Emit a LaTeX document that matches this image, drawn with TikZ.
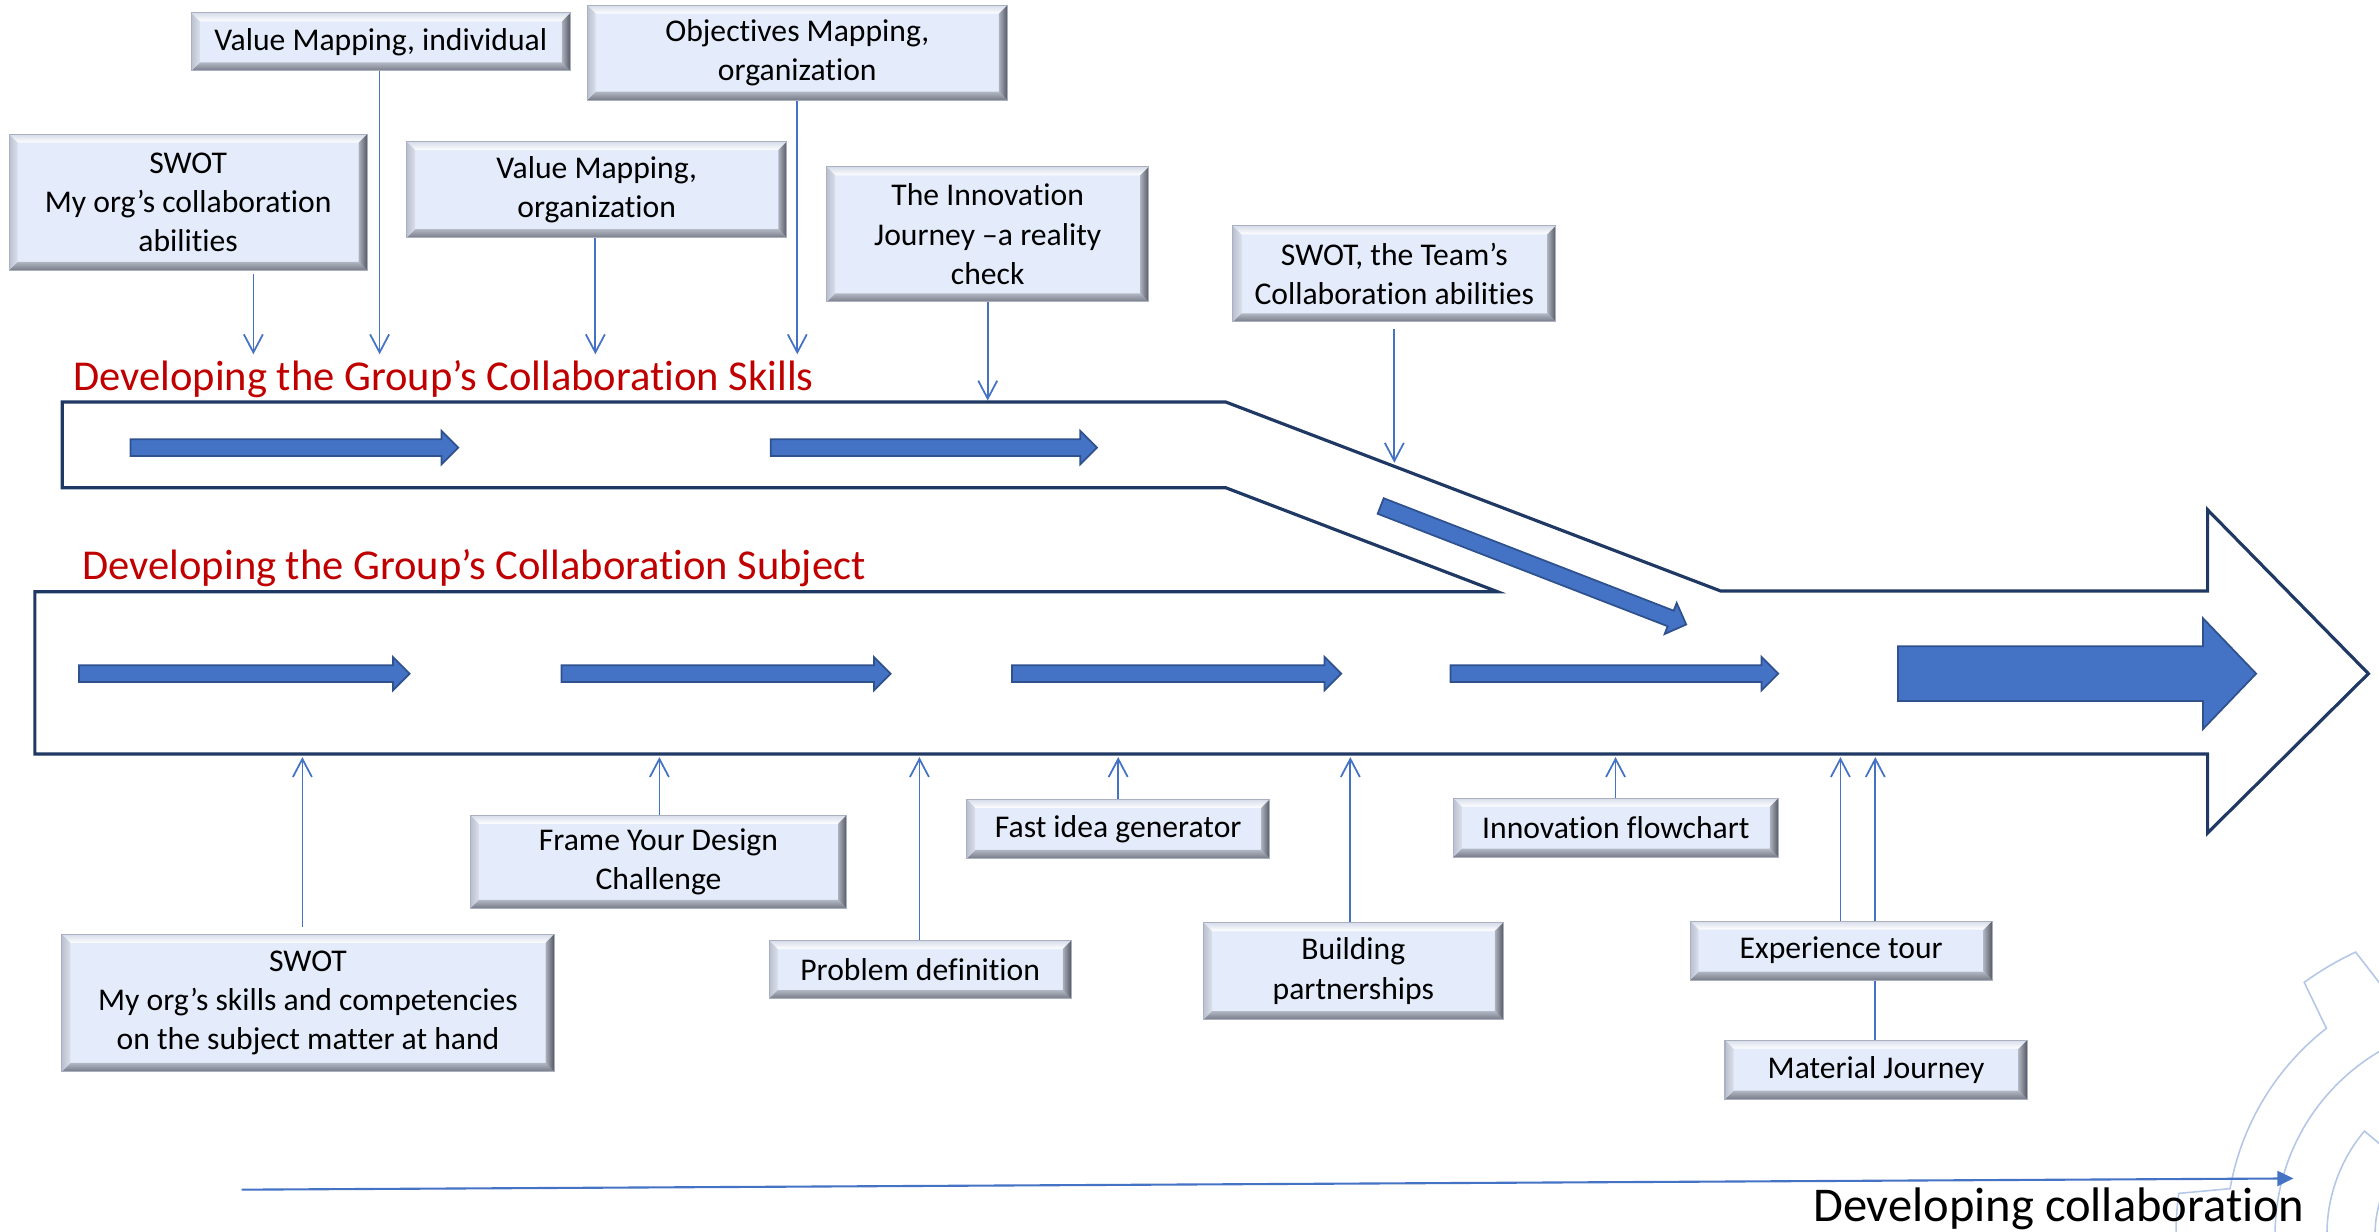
\documentclass[tikz,border=0pt]{standalone}
\usepackage{fontspec}
\setmainfont{Carlito}[Ligatures=NoCommon]
\usetikzlibrary{arrows.meta,calc,backgrounds}
\definecolor{boxFill}{RGB}{228,236,251}
\definecolor{toolEdge}{RGB}{170,176,192}
\definecolor{bevelTop}{RGB}{214,220,234}
\definecolor{bevelLow}{RGB}{118,123,134}
\definecolor{bevelLowIn}{RGB}{178,183,196}
\definecolor{bevelLeft}{RGB}{186,192,207}
\definecolor{bevelLeftIn}{RGB}{218,223,235}
\definecolor{bevelRight}{RGB}{84,88,97}
\definecolor{bevelRightIn}{RGB}{172,177,190}
\definecolor{bandNavy}{RGB}{31,56,100}
\definecolor{flowBlue}{RGB}{68,114,196}
\definecolor{flowEdge}{RGB}{47,82,143}
\definecolor{titleRed}{RGB}{192,0,0}
\definecolor{gearBlue}{RGB}{180,199,231}
\def\bv{0.085cm}
\tikzset{pics/flowarrow/.style={code={
  \draw[flowfill] (0,-5.5) -- (#1-11,-5.5) -- (#1-11,-11) -- (#1,0) -- (#1-11,11) -- (#1-11,5.5) -- (0,5.5) -- cycle;}}}

\begin{document}
\begin{tikzpicture}[x=0.015172cm, y=-0.015172cm]
  \tikzstyle{toolbox} = [draw=toolEdge, line width=0.3pt, fill=boxFill, align=center, inner sep=0pt,
    font=\fontsize{9}{11.2}\selectfont,
    path picture={
      \coordinate (pnw) at (path picture bounding box.north west);
      \coordinate (pne) at (path picture bounding box.north east);
      \coordinate (psw) at (path picture bounding box.south west);
      \coordinate (pse) at (path picture bounding box.south east);
      \shade[top color=bevelTop, bottom color=white] (pnw) -- (pne) -- ($(pne)+(-\bv,-\bv)$) -- ($(pnw)+(\bv,-\bv)$) -- cycle;
      \shade[bottom color=bevelLow, top color=bevelLowIn] (psw) -- (pse) -- ($(pse)+(-\bv,\bv)$) -- ($(psw)+(\bv,\bv)$) -- cycle;
      \shade[left color=bevelLeft, right color=bevelLeftIn] (pnw) -- (psw) -- ($(psw)+(\bv,\bv)$) -- ($(pnw)+(\bv,-\bv)$) -- cycle;
      \shade[right color=bevelRight, left color=bevelRightIn] (pne) -- (pse) -- ($(pse)+(-\bv,\bv)$) -- ($(pne)+(-\bv,-\bv)$) -- cycle;
    }]
  \tikzstyle{feedarrow} = [draw=flowBlue, line width=0.5pt, -{Straight Barb[length=1.8mm,width=1.9mm]}]
  \tikzstyle{bandline} = [draw=bandNavy, line width=0.9pt, line join=miter]
  \tikzstyle{flowfill} = [fill=flowBlue, draw=flowEdge, line width=0.5pt]
  \tikzstyle{stagetitle} = [text=titleRed, font=\fontsize{12.1}{14}\selectfont, anchor=base west, inner sep=0pt]
  \tikzstyle{gearline} = [draw=gearBlue, line width=0.45pt]

  \useasboundingbox (0,0) rectangle (1568,812);

  % gears in the corner
  \begin{scope}
    \clip (0,0) rectangle (1568,812);
    \begin{scope}[shift={(1639.2,813.3)}, yscale=-1]
      \draw[gearline] plot[domain=200:190, samples=6] (\x:172) -- (187.5:205)
        -- plot[domain=187.5:172.5, samples=10] (\x:205) -- (170:172)
        -- plot[domain=170:128, samples=30] (\x:172) -- (126:205)
        -- plot[domain=126:115, samples=10] (\x:205) -- (112.5:172)
        -- plot[domain=112.5:70, samples=20] (\x:172);
      \draw[gearline] plot[domain=182:90, samples=50] (\x:139.7);
      \draw[gearline] plot[domain=186:140, samples=30] (\x:105.5) -- (140:93)
        -- plot[domain=140:100, samples=20] (\x:93);
      \draw[gearline] plot[domain=186:140, samples=15] (\x:73.8);
    \end{scope}
  \end{scope}

  % the two bands
  \draw[bandline] (41,265) -- (808,265) -- (1134,389.5) -- (1455,389.5) -- (1455,336) -- (1561,444)
    -- (1455,549) -- (1455,497) -- (23,497) -- (23,390) -- (987,390) -- (808,321.5) -- (41,321.5) -- cycle;
  \node[stagetitle] (skillsTitle) at (48,257.5) {Developing the Group’s Collaboration Skills};
  \node[stagetitle] (subjectTitle) at (54,382) {Developing the Group’s Collaboration Subject};

  \pic at (86,295) {flowarrow=216};
  \pic at (508,295) {flowarrow=215};
  \pic[rotate=-21.2] at (910,333.5) {flowarrow=216};
  \pic at (52,444) {flowarrow=218};
  \pic at (370,444) {flowarrow=217};
  \pic at (667,444) {flowarrow=217};
  \pic at (956,444) {flowarrow=216};
  \draw[flowfill] (1251,426) -- (1452,426) -- (1452,407.5) -- (1487,444) -- (1452,480.5) -- (1452,462) -- (1251,462) -- cycle;

  % tools above
  \node[toolbox, minimum width=3.79cm, minimum height=0.58cm] (valInd) at (251,27.6) {Value Mapping, individual};
  \node[toolbox, minimum width=4.2cm, minimum height=0.95cm] (objOrg) at (525.5,34.7) {Objectives Mapping,\\organization};
  \node[toolbox, minimum width=3.58cm, minimum height=1.36cm] (swotOrg) at (124,133.3) {SWOT\\My org’s collaboration\\abilities};
  \node[toolbox, minimum width=3.8cm, minimum height=0.96cm] (valOrg) at (393.3,125) {Value Mapping,\\organization};
  \node[toolbox, minimum width=3.22cm, minimum height=1.35cm] (innJourney) at (651,154.5) {The Innovation\\Journey –a reality\\check};
  \node[toolbox, minimum width=3.23cm, minimum height=0.96cm] (swotTeam) at (919,180.5) {SWOT, the Team’s\\Collaboration abilities};

  % tools below
  \node[toolbox, minimum width=4.92cm, minimum height=1.37cm] (swotSkills) at (203,661) {SWOT\\My org’s skills and competencies\\on the subject matter at hand};
  \node[toolbox, minimum width=3.76cm, minimum height=0.93cm] (frame) at (434,568) {Frame Your Design\\Challenge};
  \node[toolbox, minimum width=3.02cm, minimum height=0.58cm] (problem) at (606.5,639) {Problem definition};
  \node[toolbox, minimum width=3.03cm, minimum height=0.59cm] (fastIdea) at (737,546.3) {Fast idea generator};
  \node[toolbox, minimum width=3cm, minimum height=0.97cm] (partners) at (892,640) {Building\\partnerships};
  \node[toolbox, minimum width=3.25cm, minimum height=0.59cm] (innFlow) at (1065,545.5) {Innovation flowchart};
  \node[toolbox, minimum width=3.02cm, minimum height=0.59cm] (expTour) at (1213.5,626.5) {Experience tour};
  \node[toolbox, minimum width=3.02cm, minimum height=0.59cm] (matJourney) at (1236.5,705) {Material Journey};

  % where the tools feed in
  \coordinate (inSwotOrg) at (167,233.5);
  \coordinate (inValInd) at (250.2,233.5);
  \coordinate (inValOrg) at (392.4,233.5);
  \coordinate (inObjOrg) at (525.5,233.5);
  \coordinate (inJourney) at (651,264);
  \coordinate (inTeam) at (919,305);
  \coordinate (inSkills) at (199.3,499);
  \coordinate (inFrame) at (434.6,499);
  \coordinate (inProblem) at (606,499);
  \coordinate (inFast) at (737,499);
  \coordinate (inPartners) at (890,499);
  \coordinate (inFlow) at (1064.8,499);
  \coordinate (inTour) at (1213,499);
  \coordinate (inMaterial) at (1236,499);

  \begin{scope}[on background layer]
    \draw[feedarrow, shorten <=1pt] (swotOrg.south -| inSwotOrg) -- (inSwotOrg);
    \draw[feedarrow] (valInd.south -| inValInd) -- (inValInd);
    \draw[feedarrow] (valOrg.south -| inValOrg) -- (inValOrg);
    \draw[feedarrow] (objOrg.south -| inObjOrg) -- (inObjOrg);
    \draw[feedarrow] (innJourney.south -| inJourney) -- (inJourney);
    \draw[feedarrow, shorten <=2pt] (swotTeam.south -| inTeam) -- (inTeam);
    \draw[feedarrow, shorten <=2pt] (swotSkills.north -| inSkills) -- (inSkills);
    \draw[feedarrow] (frame.north -| inFrame) -- (inFrame);
    \draw[feedarrow] (problem.north -| inProblem) -- (inProblem);
    \draw[feedarrow] (fastIdea.north -| inFast) -- (inFast);
    \draw[feedarrow] (partners.north -| inPartners) -- (inPartners);
    \draw[feedarrow] (innFlow.north -| inFlow) -- (inFlow);
    \draw[feedarrow] (expTour.north -| inTour) -- (inTour);
    \draw[feedarrow] (matJourney.north -| inMaterial) -- (inMaterial);
  \end{scope}

  % overall direction
  \coordinate (devStart) at (159.3,784.1);
  \coordinate (devEnd) at (1511.6,776.7);
  \draw[draw=flowBlue, line width=0.6pt, -{Triangle[length=1.6mm,width=1.5mm]}] (devStart) -- (devEnd);
  \node[font=\fontsize{13.8}{16}\selectfont, anchor=base, inner sep=0pt] (devLabel) at (1357,805) {Developing collaboration};
\end{tikzpicture}
\end{document}
